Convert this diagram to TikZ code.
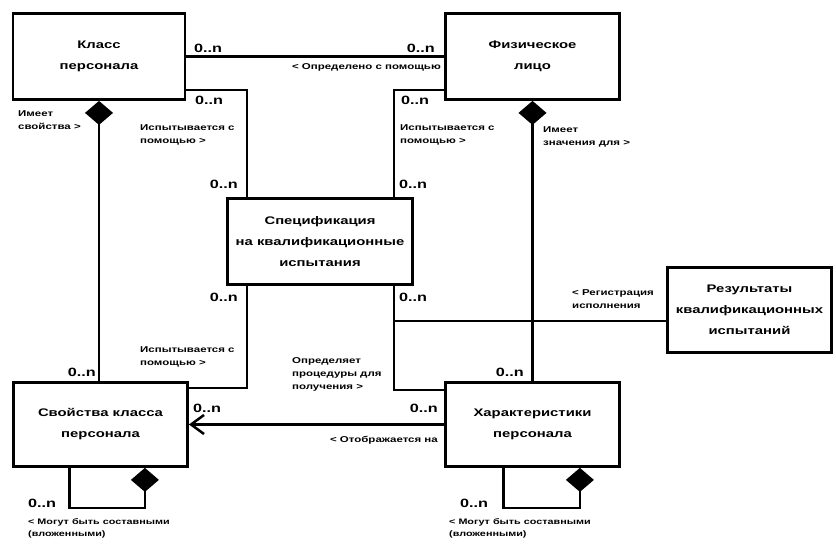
\documentclass[tikz,border=0pt]{standalone}
\usepackage{fontspec}
\setmainfont{Liberation Sans}
\newfontfamily\tfont[FakeStretch=1.35]{Liberation Sans}
\usetikzlibrary{arrows.meta,calc}
\begin{document}
\begin{tikzpicture}[x=1pt,y=-1pt,
  box/.style={draw,line width=2.8pt,align=center,inner sep=0pt,font=\tfont\bfseries\fontsize{11}{21}\selectfont},
  lbl/.style={inner sep=0pt,align=left,font=\tfont\bfseries\fontsize{8.5}{13}\selectfont},
  mult/.style={inner sep=0pt,font=\tfont\bfseries\fontsize{12}{13}\selectfont},
  conn/.style={line width=2.5pt},
  comp/.style={conn,{Diamond[length=24pt,width=28pt]}-},
  nav/.style={conn,-{Straight Barb[length=13pt,width=19pt]}}
]
\useasboundingbox (0,0) rectangle (836,545);

% boxes
\node[box,minimum width=172pt,minimum height=86pt] (klass) at (99,56.5) {Класс\\персонала};
\node[box,minimum width=174pt,minimum height=86pt] (fiz) at (532.5,56.5) {Физическое\\лицо};
\node[box,minimum width=185pt,minimum height=86pt] (spec) at (320,241.5) {Спецификация\\на квалификационные\\испытания};
\node[box,minimum width=164pt,minimum height=85pt] (res) at (749.5,310) {Результаты\\квалификационных\\испытаний};
\node[box,minimum width=174pt,minimum height=84pt] (svoj) at (100.5,424.5) {Свойства класса\\персонала};
\node[box,minimum width=174pt,minimum height=84pt] (har) at (532.5,424.5) {Характеристики\\персонала};

% helper coordinates
\coordinate (k1) at ([yshift=11pt]klass.south east);
\coordinate (f1) at ([yshift=11pt]fiz.south west);
\coordinate (st1) at ([xshift=21pt]spec.north west);
\coordinate (st2) at ([xshift=-20pt]spec.north east);
\coordinate (sb1) at ([xshift=21pt]spec.south west);
\coordinate (sb2) at ([xshift=-20pt]spec.south east);
\coordinate (sv1) at ([yshift=-7pt]svoj.north east);
\coordinate (h1) at ([yshift=-9pt]har.north west);
\coordinate (r1) at ([yshift=-11pt]res.west);
\coordinate (tj) at (sb2 |- r1);
\coordinate (svl1) at ([xshift=-44pt]svoj.south east);
\coordinate (svl2) at ([xshift=-31pt]svoj.south);
\coordinate (hl1) at ([xshift=-41pt]har.south east);
\coordinate (hl2) at ([xshift=-29pt]har.south);

% connectors
\draw[conn] (klass.east) -- (fiz.west);
\draw[conn] (k1) -| (st1);
\draw[conn] (f1) -| (st2);
\draw[comp] (klass.south) -- (klass.south |- svoj.north);
\draw[comp] (fiz.south) -- (fiz.south |- har.north);
\draw[conn] (sb1) |- (sv1);
\draw[conn] (sb2) |- (h1);
\draw[conn] (r1) -- (tj);
\draw[nav] (har.west) -- (har.west -| svoj.east);
\draw[comp] (svl1) -- ++(0,40) -| (svl2);
\draw[comp] (hl1) -- ++(0,40) -| (hl2);

% multiplicities
\node[mult,anchor=south west] (m1) at (194,53) {0..n};
\node[mult,anchor=south east] (m2) at (435,53) {0..n};
\node[mult,anchor=north west] (m3) at (195,96) {0..n};
\node[mult,anchor=south east] (m4) at (238,189) {0..n};
\node[mult,anchor=north west] (m5) at (401,96) {0..n};
\node[mult,anchor=south west] (m6) at (399,189) {0..n};
\node[mult,anchor=north east] (m7) at (238,293) {0..n};
\node[mult,anchor=north west] (m8) at (399,293) {0..n};
\node[mult,anchor=south east] (m9) at (96,377) {0..n};
\node[mult,anchor=south east] (m10) at (524,377) {0..n};
\node[mult,anchor=south west] (m11) at (193,413) {0..n};
\node[mult,anchor=south east] (m12) at (438,413) {0..n};
\node[mult,anchor=north west] (m13) at (28,499) {0..n};
\node[mult,anchor=north west] (m14) at (460,499) {0..n};

% role labels
\node[lbl,anchor=north east] (t1) at (441,63) {< Определено с помощью};
\node[lbl,anchor=north west] (t2) at (18,110) {Имеет\\свойства >};
\node[lbl,anchor=north west] (t3) at (140,124) {Испытывается с\\помощью >};
\node[lbl,anchor=north west] (t4) at (400,124) {Испытывается с\\помощью >};
\node[lbl,anchor=north west] (t5) at (543,126) {Имеет\\значения для >};
\node[lbl,anchor=north west] (t6) at (140,346) {Испытывается с\\помощью >};
\node[lbl,anchor=north west] (t7) at (292,357) {Определяет\\процедуры для\\получения >};
\node[lbl,anchor=north west] (t8) at (572,289) {< Регистрация\\исполнения};
\node[lbl,anchor=north east] (t9) at (438,436) {< Отображается на};
\node[lbl,anchor=north west,font=\tfont\bfseries\fontsize{8}{12}\selectfont] (t10) at (28,518) {< Могут быть составными\\(вложенными)};
\node[lbl,anchor=north west,font=\tfont\bfseries\fontsize{8}{12}\selectfont] (t11) at (449,518) {< Могут быть составными\\(вложенными)};
\end{tikzpicture}
\end{document}
